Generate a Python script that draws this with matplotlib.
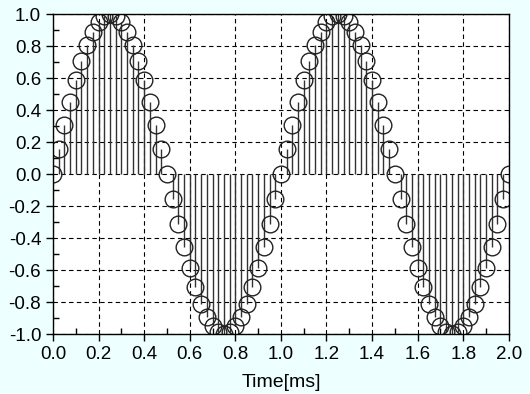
import matplotlib
matplotlib.use("Agg")
from matplotlib import pyplot as plt
from matplotlib.ticker import MultipleLocator

times = [0.000, 0.025, 0.050, 0.075, 0.100, 0.125, 0.150, 0.175, 0.200, 0.225,
         0.250, 0.275, 0.300, 0.325, 0.350, 0.375, 0.400, 0.425, 0.450, 0.475,
         0.500, 0.525, 0.550, 0.575, 0.600, 0.625, 0.650, 0.675, 0.700, 0.725,
         0.750, 0.775, 0.800, 0.825, 0.850, 0.875, 0.900, 0.925, 0.950, 0.975,
         1.000, 1.025, 1.050, 1.075, 1.100, 1.125, 1.150, 1.175, 1.200, 1.225,
         1.250, 1.275, 1.300, 1.325, 1.350, 1.375, 1.400, 1.425, 1.450, 1.475,
         1.500, 1.525, 1.550, 1.575, 1.600, 1.625, 1.650, 1.675, 1.700, 1.725,
         1.750, 1.775, 1.800, 1.825, 1.850, 1.875, 1.900, 1.925, 1.950, 1.975,
         2.000]
amplitude = [0.000, 0.156, 0.309, 0.454, 0.588, 0.707, 0.809, 0.891, 0.951, 0.988,
             1.000, 0.988, 0.951, 0.891, 0.809, 0.707, 0.588, 0.454, 0.309, 0.156,
             0.000, -0.156, -0.309, -0.454, -0.588, -0.707, -0.809, -0.891, -0.951, -0.988,
             -1.000, -0.988, -0.951, -0.891, -0.809, -0.707, -0.588, -0.454, -0.309, -0.156,
             0.000, 0.156, 0.309, 0.454, 0.588, 0.707, 0.809, 0.891, 0.951, 0.988,
             1.000, 0.988, 0.951, 0.891, 0.809, 0.707, 0.588, 0.454, 0.309, 0.156,
             0.000, -0.156, -0.309, -0.454, -0.588, -0.707, -0.809, -0.891, -0.951, -0.988,
             -1.000, -0.988, -0.951, -0.891, -0.809, -0.707, -0.588, -0.454, -0.309, -0.156,
             0.000]

plt.rcParams['font.family'] = ['Liberation Sans', 'DejaVu Sans']

fig = plt.figure(figsize=(5.3, 3.94), dpi=100, facecolor='#eeffff')
ax = fig.add_axes([0.100, 0.152, 0.860, 0.812])
ax.set_facecolor('white')

markers, stems, base = ax.stem(times, amplitude, basefmt=' ')
plt.setp(stems, color='#333333', linewidth=1.0)
plt.setp(markers, marker='o', markersize=12, markerfacecolor='none',
         markeredgecolor='#222222', markeredgewidth=1.0)

ax.set_xlim(0, 2.0)
ax.set_ylim(-1.0, 1.0)
ax.xaxis.set_major_locator(MultipleLocator(0.2))
ax.xaxis.set_minor_locator(MultipleLocator(0.1))
ax.yaxis.set_major_locator(MultipleLocator(0.2))
ax.yaxis.set_minor_locator(MultipleLocator(0.1))
ax.xaxis.set_major_formatter(lambda v, p: '%.1f' % v)
ax.yaxis.set_major_formatter(lambda v, p: '%.1f' % v)

ax.grid(True, which='major', color='black', linestyle=(0, (4, 3)), linewidth=0.8)
ax.set_axisbelow(True)
ax.tick_params(which='major', direction='out', length=5, width=1, labelsize=13.5,
               top=False, right=False)
ax.tick_params(which='minor', direction='in', length=4, width=1,
               top=False, right=False)
for s in ax.spines.values():
    s.set_linewidth(1.0)

ax.set_xlabel('Time[ms]', fontsize=14, labelpad=8)

fig.savefig('out.png', dpi=100, facecolor=fig.get_facecolor())
